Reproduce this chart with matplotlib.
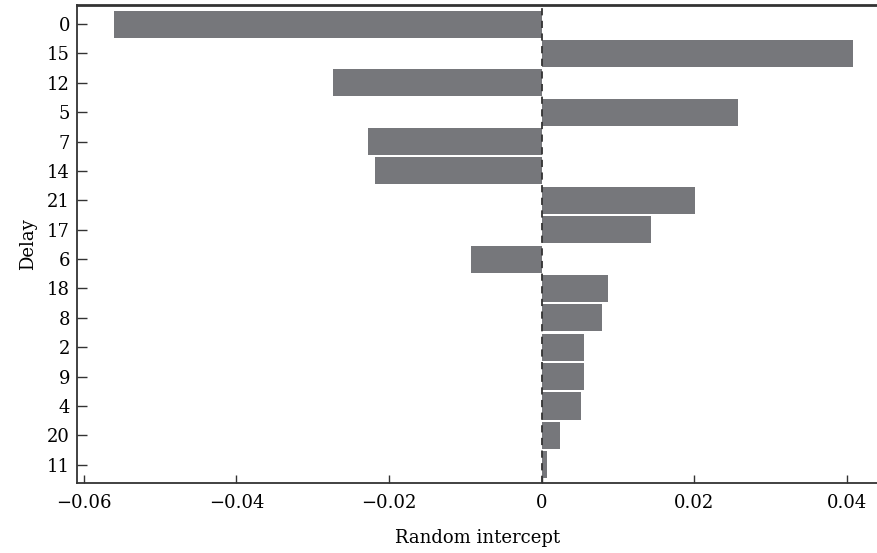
import matplotlib
matplotlib.use("Agg")
import matplotlib.pyplot as plt

# Random intercepts per delay, top to bottom as in the figure
delays = ["0", "15", "12", "5", "7", "14", "21", "17", "6",
          "18", "8", "2", "9", "4", "20", "11"]
intercepts = [-0.0560, 0.0408, -0.0273, 0.0258, -0.0227, -0.0219, 0.0201, 0.0143,
              -0.0092, 0.0087, 0.0079, 0.0056, 0.0056, 0.0052, 0.0024, 0.0007]
xticks = [-0.06, -0.04, -0.02, 0, 0.02, 0.04]
xtick_labels = ["\u22120.06", "\u22120.04", "\u22120.02", "0", "0.02", "0.04"]

plt.rcParams["font.family"] = ["DejaVu Serif"]

fig = plt.figure(figsize=(8.78, 5.53), dpi=100)
ax = fig.add_axes([0.0877, 0.1266, 0.9123, 0.8644])

pos = list(range(len(delays)))
ax.barh(pos, intercepts, height=0.92, color="#76777b", zorder=2)
ax.axvline(0, color="#333333", linestyle=(0, (4, 3)), linewidth=1.3, zorder=3)

ax.set_yticks(pos)
ax.set_yticklabels(delays)
ax.set_ylim(15.62, -0.65)
ax.set_xlim(-0.0609, 0.0441)
ax.set_xticks(xticks)
ax.set_xticklabels(xtick_labels)

ax.tick_params(axis="both", direction="in", labelsize=13, width=1, color="#333333")
ax.tick_params(axis="y", length=7, pad=5)
ax.tick_params(axis="x", length=6, pad=8)

ax.spines["right"].set_visible(False)
ax.spines["top"].set_linewidth(2)
for s in ["left", "bottom", "top"]:
    ax.spines[s].set_color("#333333")
ax.spines["left"].set_linewidth(1.3)
ax.spines["bottom"].set_linewidth(1.3)

ax.set_xlabel("Random intercept", fontsize=13, labelpad=12)
ax.set_ylabel("Delay", fontsize=13, labelpad=7)

fig.savefig("out.png", dpi=100)
